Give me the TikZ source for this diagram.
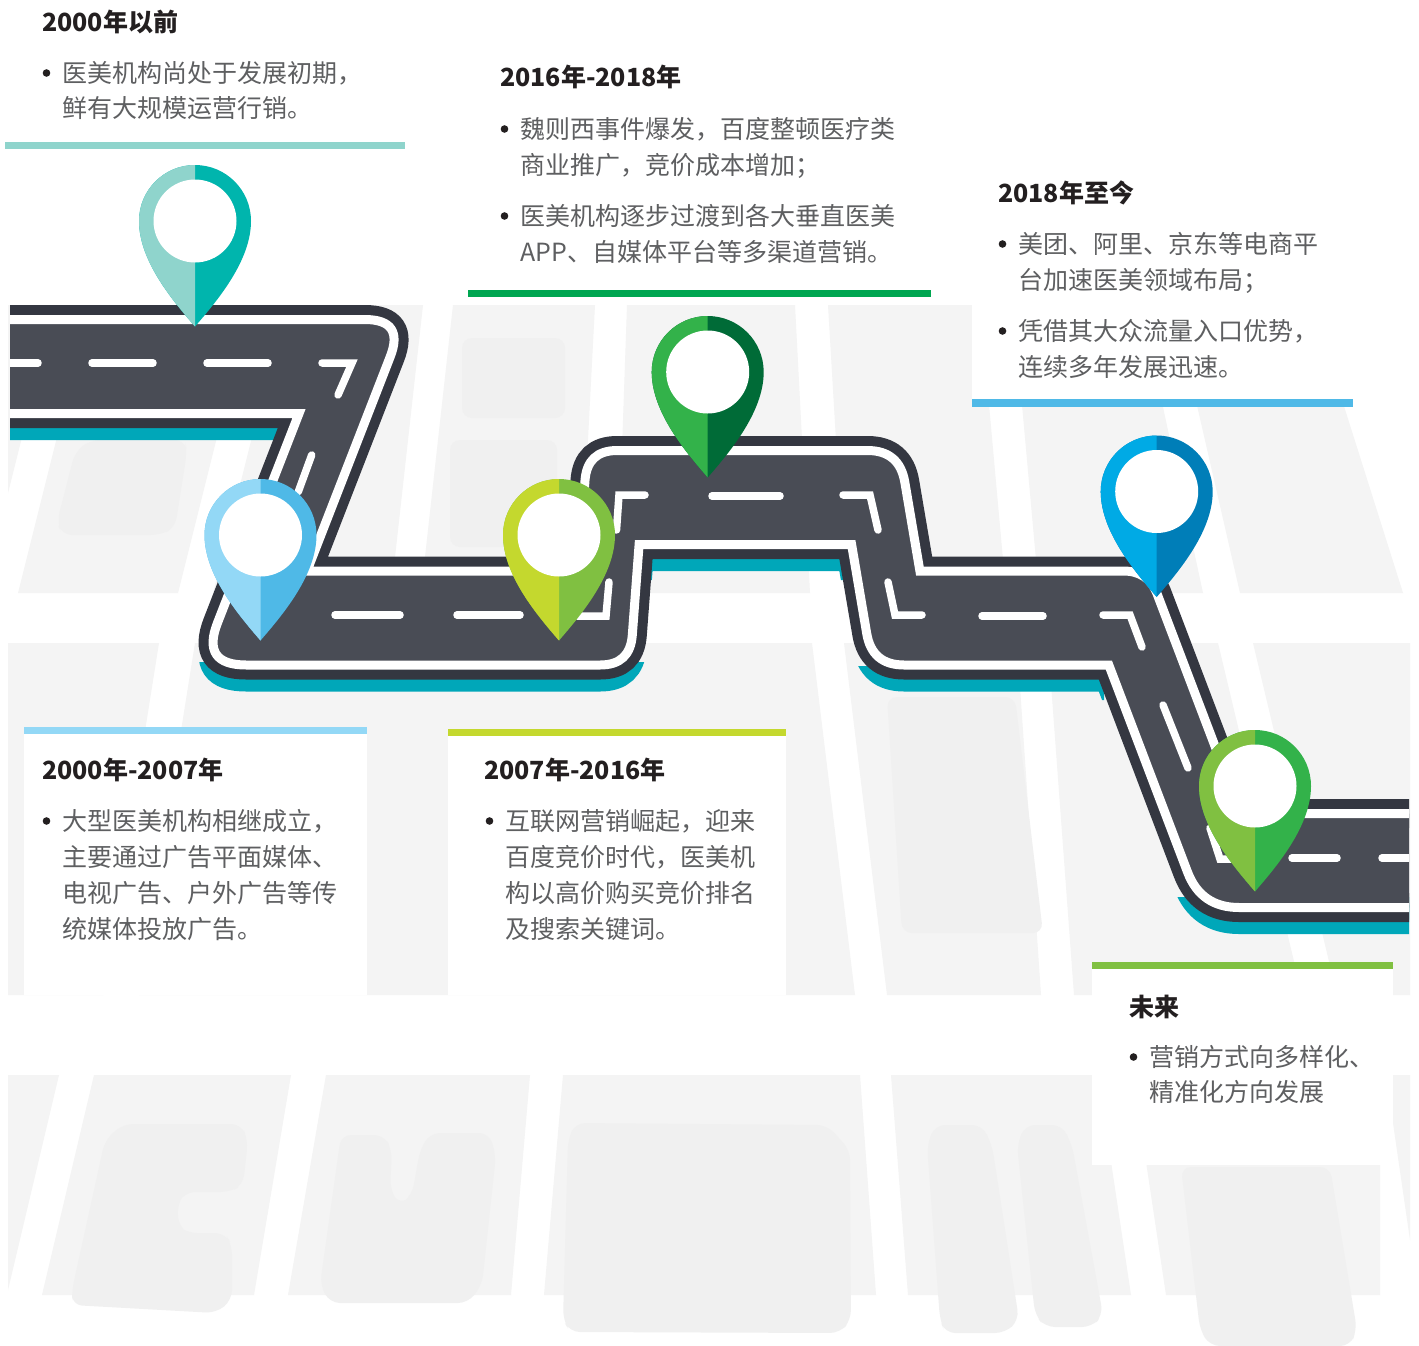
\documentclass[tikz,border=0pt]{standalone}
\usepackage{fontspec}
\setmainfont{Noto Sans CJK SC}

% palette
\definecolor{roadedge}{HTML}{343741}
\definecolor{asphalt}{HTML}{494C55}
\definecolor{shadowc}{HTML}{00A7B9}
\definecolor{patc}{HTML}{F4F4F4}
\definecolor{patin}{HTML}{F0F0F0}
\definecolor{headc}{HTML}{231F20}
\definecolor{bodyc}{HTML}{5E5F61}
\definecolor{tealL}{HTML}{8FD4CC}
\definecolor{tealR}{HTML}{00B5AD}
\definecolor{skyL}{HTML}{93D8F6}
\definecolor{skyR}{HTML}{4FB9E7}
\definecolor{limeL}{HTML}{C4D82E}
\definecolor{limeR}{HTML}{80C041}
\definecolor{grnL}{HTML}{33B24A}
\definecolor{grnR}{HTML}{006B37}
\definecolor{blueL}{HTML}{00AAE5}
\definecolor{blueR}{HTML}{007EB8}
\definecolor{leafL}{HTML}{80C041}
\definecolor{leafR}{HTML}{33B24A}
\definecolor{barB}{HTML}{00A651}

% centre line of the white kerb stripe around the road
\newcommand\roadQ{(-20,-319.5) -- (364.7,-319.5) .. controls (391.4,-319.5) and (399.9,-331.9) .. (390.2,-356.8)
 -- (306.9,-571) -- (578.3,-571) -- (585.0,-480.4) .. controls (586.5,-460.5) and (597.2,-450.5) .. (617.2,-450.5)
 -- (867.4,-450.5) .. controls (888.7,-450.5) and (901.2,-461.0) .. (904.8,-482.1)
 -- (919.9,-571) -- (1123.4,-571) .. controls (1140.1,-571) and (1151.4,-578.8) .. (1157.3,-594.4)
 -- (1240.6,-813.5) -- (1440,-813.5) -- (1440,-907.5) -- (1239,-907.5) .. controls (1213.7,-907.5) and (1196.5,-895.7) .. (1187.5,-872.0)
 -- (1108.8,-665) -- (904,-665) .. controls (882.7,-665) and (870.2,-654.5) .. (866.7,-633.4)
 -- (851.6,-544.5) -- (639.1,-544.5) -- (632.3,-635.1) .. controls (630.8,-655.1) and (620.1,-665) .. (600.1,-665)
 -- (246.1,-665) .. controls (216.1,-665) and (206.5,-651.0) .. (217.4,-623.1)
 -- (299,-413.5) -- (-20,-413.5) -- cycle}

\tikzset{
  hd/.style={anchor=base west, inner sep=0pt, text=headc, font=\fontsize{25pt}{25pt}\selectfont\bfseries},
  bd/.style={anchor=base west, inner sep=0pt, text=bodyc, font=\fontsize{25pt}{25pt}\selectfont},
  lanemark/.style={white, line width=7.5pt, line cap=round, line join=miter},
  blk/.style={fill=patc},
  inr/.style={fill=patin, rounded corners=10pt},
  pics/mappin/.style 2 args={code={
    \fill[#2] (0,-105.5) .. controls (-22,-80) and (-56,-40) .. (-56,0)
      arc[start angle=180, end angle=0, radius=56pt]
      .. controls (56,-40) and (22,-80) .. (0,-105.5) -- cycle;
    \begin{scope}
      \clip (-60,-110) rectangle (0,60);
      \fill[#1] (0,-105.5) .. controls (-22,-80) and (-56,-40) .. (-56,0)
        arc[start angle=180, end angle=0, radius=56pt]
        .. controls (56,-40) and (22,-80) .. (0,-105.5) -- cycle;
    \end{scope}
    \fill[white] (0,0) circle[radius=41.5pt];
  }}
}

\begin{document}
\begin{tikzpicture}[x=1pt,y=1pt]
\useasboundingbox (0,0) rectangle (1419,-1346);
\fill[white] (0,0) rectangle (1419,-1346);

% ---- faint city blocks in the background ----
% upper band
\fill[blk] (8,-305) -- (55,-305) -- (8,-493) -- cycle;
\fill[blk] (90,-305) -- (250,-305) -- (178,-593) -- (18,-593) -- cycle;
\fill[blk] (285,-305) -- (423,-305) -- (391,-593) -- (213,-593) -- cycle;
\fill[blk] (453,-305) -- (595,-305) -- (580,-593) -- (421,-593) -- cycle;
\fill[blk] (627,-305) -- (795,-305) -- (810,-593) -- (617,-593) -- cycle;
\fill[blk] (828,-305) -- (980,-305) -- (1006,-593) -- (845,-593) -- cycle;
\fill[blk] (1013,-305) -- (1141,-305) -- (1203,-593) -- (1039,-593) -- cycle;
\fill[blk] (1174,-305) -- (1312,-305) -- (1403,-593) -- (1240,-593) -- cycle;
\fill[inr] (90,-440) -- (185,-440) -- (187,-452) -- (175,-528) -- (160,-535) -- (62,-535) -- (57,-522) -- (75,-452) -- cycle;
\fill[inr] (462,-338) rectangle (565,-418);
\fill[inr] (450,-440) rectangle (557,-547);
% middle band
\fill[blk] (8,-643) -- (159,-643) -- (103,-995) -- (8,-995) -- cycle;
\fill[blk] (195,-643) -- (812,-643) -- (855,-995) -- (139,-995) -- cycle;
\fill[blk] (844,-643) -- (1017,-643) -- (1041,-995) -- (887,-995) -- cycle;
\fill[blk] (1048,-643) -- (1218,-643) -- (1302,-995) -- (1074,-995) -- cycle;
\fill[blk] (1253,-643) -- (1410,-643) -- (1410,-995) -- (1337,-995) -- cycle;
\fill[inr] (887,-697) -- (1015,-697) -- (1043,-933) -- (902,-933) -- cycle;
% lower band
\fill[blk] (8,-1075) -- (59,-1075) -- (8,-1290) -- cycle;
\fill[blk] (94,-1075) -- (291,-1075) -- (254,-1295) -- (42,-1295) -- cycle;
\fill[blk] (326,-1075) -- (530,-1075) -- (511,-1295) -- (288,-1295) -- cycle;
\fill[blk] (563,-1075) -- (860,-1075) -- (876,-1295) -- (544,-1295) -- cycle;
\fill[blk] (891,-1075) -- (1098,-1075) -- (1131,-1295) -- (908,-1295) -- cycle;
\fill[blk] (1133,-1075) -- (1380,-1075) -- (1380,-1295) -- (1166,-1295) -- cycle;
\fill[blk] (1386,-1075) -- (1410,-1075) -- (1410,-1240) -- cycle;
\fill[inr] (123,-1124) -- (241,-1124) -- (248,-1140) -- (243,-1185) -- (230,-1192) -- (185,-1192) -- (177,-1205)
  -- (179,-1227) -- (187,-1233) -- (225,-1233) -- (232,-1245) -- (232,-1300) -- (216,-1313) -- (72,-1305) -- (72,-1290) -- (105,-1140) -- cycle;
\fill[inr] (341,-1135) -- (384,-1135) -- (392,-1150) -- (390,-1190) -- (400,-1205) -- (412,-1195) -- (420,-1150)
  -- (430,-1133) -- (489,-1133) -- (496,-1155) -- (482,-1285) -- (468,-1303) -- (330,-1303) -- (320,-1285) -- cycle;
\fill[inr] (575,-1123) -- (827,-1125) -- (850,-1150) -- (851,-1320) -- (840,-1333) -- (570,-1332) -- (563,-1320) -- (568,-1140) -- cycle;
\fill[inr] (935,-1125) -- (982,-1125) -- (992,-1145) -- (1019,-1320) -- (1005,-1333) -- (945,-1333) -- (940,-1320) -- (927,-1145) -- cycle;
\fill[inr] (1025,-1125) -- (1062,-1125) -- (1072,-1145) -- (1103,-1315) -- (1092,-1327) -- (1045,-1327) -- (1035,-1315) -- (1017,-1145) -- cycle;
\fill[inr] (1181,-1167) -- (1330,-1167) -- (1357,-1330) -- (1350,-1346) -- (1210,-1346) -- (1200,-1330) -- cycle;

% ---- white text panels and their colour bars ----
\fill[white] (972,-300) rectangle (1353,-399);
\fill[white] (24,-734) rectangle (367,-995);
\fill[white] (448,-736) rectangle (786,-995);
\fill[white] (1092,-969) rectangle (1393,-1165);
\fill[tealL] (5,-142) rectangle (405,-149);
\fill[barB] (468,-290) rectangle (931,-297);
\fill[skyR] (972,-399) rectangle (1353,-407);
\fill[skyL] (24,-727) rectangle (367,-734);
\fill[limeL] (448,-729) rectangle (786,-736);
\fill[limeR] (1092,-962) rectangle (1393,-969);

% ---- the road ----
\begin{scope}
  \clip (10,-250) rectangle (1409,-1000);
  \begin{scope}
    \clip (10,-420) rectangle (290,-446) (150,-662) rectangle (700,-700) (645,-552) rectangle (850,-580)
          (840,-666) rectangle (1104,-700) (1150,-897) rectangle (1409,-945);
    \begin{scope}[yshift=-12pt]
      \fill[shadowc] \roadQ;
      \draw[shadowc, line width=29pt, line join=miter] \roadQ;
    \end{scope}
  \end{scope}
  \draw[roadedge, line width=29pt, line join=miter] \roadQ;
  \fill[asphalt] \roadQ;
  \draw[white, line width=9pt, line join=miter] \roadQ;
  % centre lane marks
  \draw[lanemark] (0,-363) -- (38,-363);
  \draw[lanemark] (92,-363) -- (153,-363);
  \draw[lanemark] (207,-363) -- (268,-363);
  \draw[lanemark] (322,-363) -- (352,-363) -- (338,-395);
  \draw[lanemark] (311.7,-455) -- (298.3,-491.7);
  \draw[lanemark] (335,-615) -- (400,-615);
  \draw[lanemark] (457,-615) -- (520,-615);
  \draw[lanemark] (577,-616) -- (606,-616) -- (609,-582);
  \draw[lanemark] (616.5,-530) -- (619,-495) -- (645,-495);
  \draw[lanemark] (712,-496) -- (780,-496);
  \draw[lanemark] (843,-495) -- (870,-495) -- (878,-530);
  \draw[lanemark] (888,-582) -- (895,-615) -- (922,-615);
  \draw[lanemark] (982,-616) -- (1043,-616);
  \draw[lanemark] (1103,-615) -- (1130,-615) -- (1142,-647);
  \draw[lanemark] (1163,-705) -- (1188,-768);
  \draw[lanemark] (1210,-828) -- (1220,-859) -- (1252,-859);
  \draw[lanemark] (1292,-858) -- (1337,-858);
  \draw[lanemark] (1382,-858) -- (1430,-858);
\end{scope}

% ---- location markers ----
\pic (mk1) at (195,-221) {mappin={tealL}{tealR}};
\pic (mk2) at (260.5,-535) {mappin={skyL}{skyR}};
\pic (mk3) at (559,-535) {mappin={limeL}{limeR}};
\pic (mk4) at (707.7,-372) {mappin={grnL}{grnR}};
\pic (mk5) at (1156.7,-491.5) {mappin={blueL}{blueR}};
\pic (mk6) at (1255,-786) {mappin={leafL}{leafR}};

% ---- texts ----
% 2000 and before
\node[hd] (t1h) at (42,-32) {2000年以前};
\fill[headc] (46.5,-73) circle[radius=3.8pt];
\node[bd] (t1a) at (62,-82.5) {医美机构尚处于发展初期，};
\node[bd] (t1b) at (62,-117.5) {鲜有大规模运营行销。};
% 2016-2018
\node[hd] (t2h) at (500,-87) {2016年-2018年};
\fill[headc] (504.5,-129) circle[radius=3.8pt];
\node[bd] (t2a) at (520,-138.5) {魏则西事件爆发，百度整顿医疗类};
\node[bd] (t2b) at (520,-174.5) {商业推广，竞价成本增加；};
\fill[headc] (504.5,-216) circle[radius=3.8pt];
\node[bd] (t2c) at (520,-225.5) {医美机构逐步过渡到各大垂直医美};
\node[bd] (t2d) at (520,-261.5) {APP、自媒体平台等多渠道营销。};
% 2018 to now
\node[hd] (t3h) at (998,-202) {2018年至今};
\fill[headc] (1002.5,-244) circle[radius=3.8pt];
\node[bd] (t3a) at (1018,-253.5) {美团、阿里、京东等电商平};
\node[bd] (t3b) at (1018,-289.5) {台加速医美领域布局；};
\fill[headc] (1002.5,-331) circle[radius=3.8pt];
\node[bd] (t3c) at (1018,-340.5) {凭借其大众流量入口优势，};
\node[bd] (t3d) at (1018,-376.5) {连续多年发展迅速。};
% 2000-2007
\node[hd] (t4h) at (42,-779) {2000年-2007年};
\fill[headc] (46.5,-821) circle[radius=3.8pt];
\node[bd] (t4a) at (62,-830.5) {大型医美机构相继成立，};
\node[bd] (t4b) at (62,-866.5) {主要通过广告平面媒体、};
\node[bd] (t4c) at (62,-902.5) {电视广告、户外广告等传};
\node[bd] (t4d) at (62,-938.5) {统媒体投放广告。};
% 2007-2016
\node[hd] (t5h) at (484,-779) {2007年-2016年};
\fill[headc] (489.5,-821) circle[radius=3.8pt];
\node[bd] (t5a) at (505,-830.5) {互联网营销崛起，迎来};
\node[bd] (t5b) at (505,-866.5) {百度竞价时代，医美机};
\node[bd] (t5c) at (505,-902.5) {构以高价购买竞价排名};
\node[bd] (t5d) at (505,-938.5) {及搜索关键词。};
% future
\node[hd] (t6h) at (1129,-1016) {未来};
\fill[headc] (1133.5,-1057) circle[radius=3.8pt];
\node[bd] (t6a) at (1149,-1066.5) {营销方式向多样化、};
\node[bd] (t6b) at (1149,-1101.5) {精准化方向发展};
\end{tikzpicture}
\end{document}
